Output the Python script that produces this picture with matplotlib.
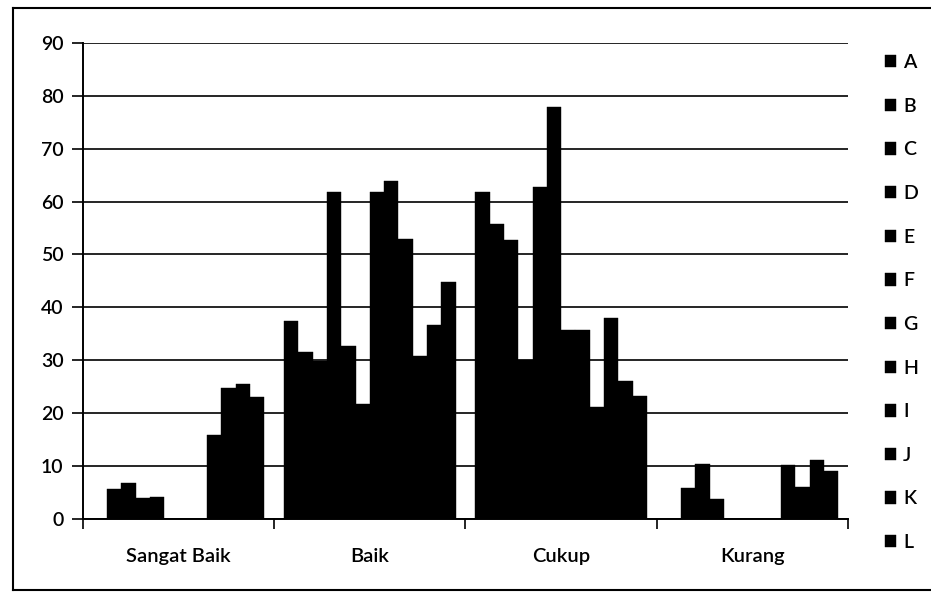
import numpy as np
import matplotlib.pyplot as plt
from matplotlib.lines import Line2D

plt.rcParams['font.family'] = ['Lato', 'DejaVu Sans']
plt.rcParams['font.weight'] = 'semibold'

categories = ['Sangat Baik', 'Baik', 'Cukup', 'Kurang']
series = ['A', 'B', 'C', 'D', 'E', 'F', 'G', 'H', 'I', 'J', 'K', 'L']

# nilai tiap seri per kategori
sangat_baik = [0, 5.7, 6.9, 4.0, 4.1, 0, 0, 0, 15.9, 24.7, 25.6, 23.0]
baik = [37.5, 31.5, 29.8, 61.9, 32.8, 21.8, 61.9, 63.9, 52.9, 30.9, 36.6, 44.8]
cukup = [61.8, 55.7, 52.7, 30.0, 62.8, 77.9, 35.8, 35.8, 21.1, 38.0, 26.1, 23.2]
kurang = [0, 5.9, 10.4, 3.9, 0, 0, 0, 0, 10.3, 6.1, 11.2, 9.1]

data = np.array([sangat_baik, baik, cukup, kurang])

fig = plt.figure(figsize=(9.31, 5.94), dpi=100)
ax = fig.add_axes([0.089, 0.126, 0.822, 0.802])

w = 0.0747
xc = np.arange(len(categories)) + 0.5
for j, s in enumerate(series):
    ax.bar(xc + (j - 5.5) * w, data[:, j], width=w, color='black',
           edgecolor='black', linewidth=0.3, label=s, zorder=3)

ax.set_xlim(0, 4)
ax.set_ylim(0, 90)
ax.set_yticks(range(0, 91, 10))
ax.yaxis.grid(True, color='black', linewidth=1.2, zorder=1)

ax.set_xticks([0, 1, 2, 3, 4])
ax.set_xticklabels([])
ax.set_xticks(xc, minor=True)
ax.set_xticklabels(categories, minor=True, fontsize=14.5)
ax.tick_params(axis='x', which='major', direction='out', length=7, width=1.2)
ax.tick_params(axis='x', which='minor', length=0, pad=21)
ax.tick_params(axis='y', direction='out', length=8, width=1.2, labelsize=14, pad=6)

for side in ['top', 'right']:
    ax.spines[side].set_visible(False)
ax.spines['left'].set_linewidth(1.4)
ax.spines['bottom'].set_linewidth(1.4)

fig.legend(loc='upper left', bbox_to_anchor=(0.942, 0.922), frameon=False,
           fontsize=14, handlelength=0.6, handleheight=0.6,
           handletextpad=0.35, labelspacing=1.37, borderaxespad=0)

# bingkai luar
fig.add_artist(Line2D([13 / 931, 13 / 931], [1 - 8 / 594, 1 - 590 / 594],
                      color='black', linewidth=1.5))
fig.add_artist(Line2D([13 / 931, 1], [1 - 8 / 594, 1 - 8 / 594],
                      color='black', linewidth=1.5))
fig.add_artist(Line2D([13 / 931, 1], [1 - 590 / 594, 1 - 590 / 594],
                      color='black', linewidth=1.5))

fig.savefig('out.png', dpi=100)
